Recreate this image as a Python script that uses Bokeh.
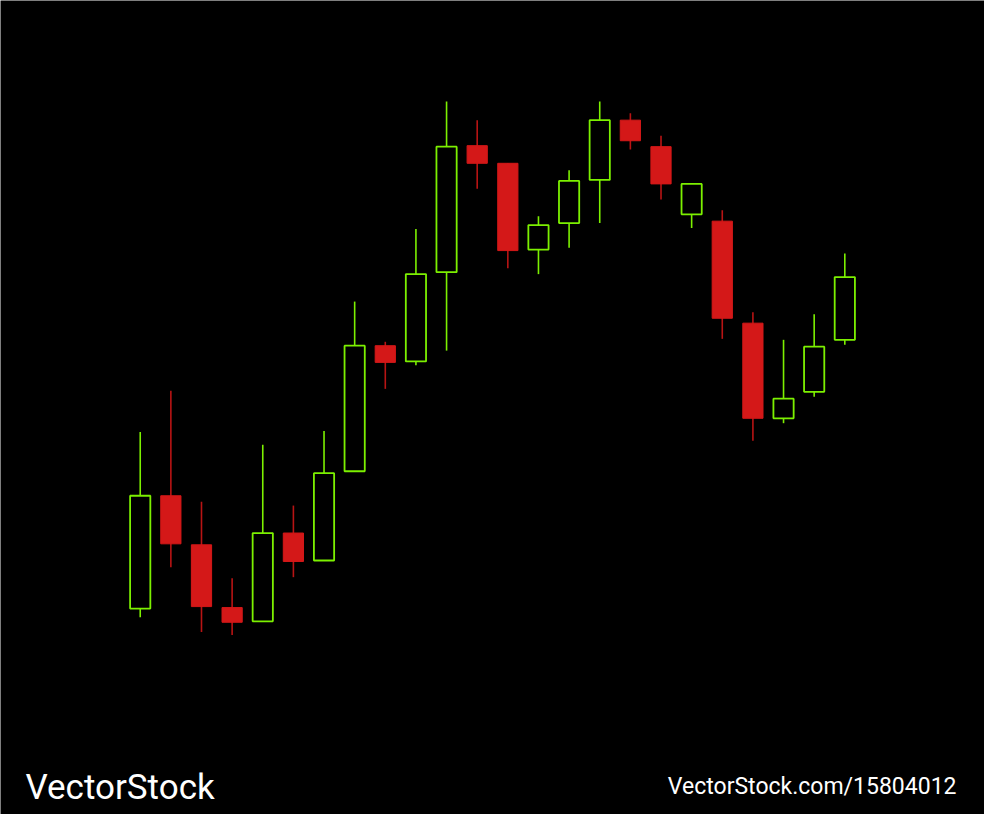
from bokeh.plotting import figure
from bokeh.models import Range1d, Label, ColumnDataSource
from bokeh.embed import file_html
from bokeh.resources import INLINE

# OHLC data (arbitrary price units)
idx = list(range(24))
opens  = [80, 195, 145, 81, 67, 157, 129, 220, 348, 332, 423, 552, 534, 446, 473, 517, 578, 551, 482, 475, 371, 274, 301, 354]
closes = [195, 146, 82, 66, 157, 128, 218, 348, 331, 421, 551, 534, 445, 471, 516, 578, 557, 513, 513, 376, 274, 294, 347, 418]
highs  = [260, 302, 189, 111, 247, 185, 261, 393, 352, 467, 597, 578, 534, 480, 527, 597, 585, 562, 513, 486, 382, 354, 380, 442]
lows   = [71, 122, 56, 53, 67, 112, 129, 220, 304, 328, 343, 508, 427, 421, 448, 473, 548, 497, 468, 355, 251, 269, 296, 349]

up_col = "#7CF000"
down_col = "#D41818"
down_wick = "#B81414"

up = [i for i in idx if closes[i] >= opens[i]]
dn = [i for i in idx if closes[i] < opens[i]]

def sub(ids):
    return ColumnDataSource(dict(
        x=[idx[i] for i in ids],
        top=[max(opens[i], closes[i]) for i in ids],
        bottom=[min(opens[i], closes[i]) for i in ids],
        high=[highs[i] for i in ids],
        low=[lows[i] for i in ids],
    ))

su, sd = sub(up), sub(dn)

W, H = 984, 814
p = figure(width=W, height=H, output_backend="svg", toolbar_location=None,
           x_range=Range1d(-4.561, 27.56), y_range=Range1d(-130, 700),
           min_border=0, background_fill_color="black", border_fill_color="black",
           outline_line_color=None)
p.axis.visible = False
p.grid.visible = False

p.segment(x0="x", y0="low", x1="x", y1="high", source=su, line_color=up_col, line_width=1.6)
p.segment(x0="x", y0="low", x1="x", y1="high", source=sd, line_color=down_wick, line_width=1.6)
p.vbar(x="x", top="top", bottom="bottom", width=0.66, source=su,
       fill_color="black", line_color=up_col, line_width=1.8)
p.vbar(x="x", top="top", bottom="bottom", width=0.66, source=sd,
       fill_color=down_col, line_color=down_col, line_width=1)

p.add_layout(Label(x=25, y=27, x_units="screen", y_units="screen", text="VectorStock",
                   text_color="white", text_font="Roboto", text_font_size="35px",
                   text_baseline="alphabetic"))
p.add_layout(Label(x=956, y=28, x_units="screen", y_units="screen", text="VectorStock.com/15804012",
                   text_color="white", text_font="Roboto", text_font_size="23px",
                   text_align="right", text_baseline="alphabetic"))

open("out.html", "w").write(file_html(p, INLINE))
